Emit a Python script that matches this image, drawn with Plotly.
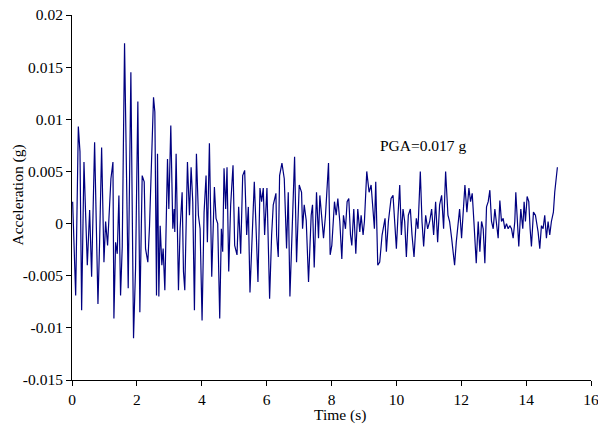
import plotly.graph_objects as go

time_s = [
    0.02, 0.113, 0.195, 0.246, 0.297, 0.369, 0.421, 0.472, 0.544, 0.605,
    0.697, 0.800, 0.851, 0.913, 0.985, 1.036, 1.097, 1.138, 1.200, 1.262,
    1.292, 1.344, 1.395, 1.446, 1.497, 1.549, 1.620, 1.733, 1.815, 1.897,
    1.959, 2.030, 2.092, 2.164, 2.226, 2.267, 2.338, 2.390, 2.513, 2.554,
    2.605, 2.636, 2.677, 2.718, 2.770, 2.810, 2.862, 2.944, 2.985, 3.046,
    3.108, 3.149, 3.169, 3.210, 3.282, 3.333, 3.395, 3.436, 3.477, 3.559,
    3.621, 3.672, 3.723, 3.774, 3.836, 3.897, 3.949, 4.010, 4.072, 4.133,
    4.174, 4.236, 4.308, 4.390, 4.441, 4.492, 4.554, 4.605, 4.646, 4.687,
    4.738, 4.779, 4.831, 4.892, 4.964, 5.015, 5.087, 5.138, 5.200, 5.262,
    5.323, 5.385, 5.436, 5.487, 5.549, 5.620, 5.672, 5.733, 5.795, 5.846,
    5.897, 5.938, 6.010, 6.092, 6.154, 6.205, 6.287, 6.308, 6.359, 6.400,
    6.472, 6.544, 6.615, 6.667, 6.718, 6.800, 6.862, 6.923, 7.005, 7.077,
    7.108, 7.159, 7.221, 7.292, 7.374, 7.415, 7.467, 7.538, 7.600, 7.641,
    7.703, 7.754, 7.815, 7.908, 7.959, 8.010, 8.092, 8.144, 8.195, 8.256,
    8.318, 8.369, 8.431, 8.482, 8.533, 8.585, 8.626, 8.687, 8.749, 8.810,
    8.872, 8.913, 8.974, 9.015, 9.087, 9.159, 9.221, 9.282, 9.323, 9.364,
    9.426, 9.487, 9.559, 9.651, 9.692, 9.754, 9.836, 9.897, 9.949, 10.000,
    10.050, 10.103, 10.154, 10.205, 10.256, 10.308, 10.369, 10.431, 10.482, 10.544,
    10.615, 10.667, 10.738, 10.790, 10.841, 10.903, 10.964, 11.026, 11.087, 11.149,
    11.210, 11.272, 11.333, 11.395, 11.456, 11.518, 11.590, 11.641, 11.703, 11.744,
    11.795, 11.846, 11.908, 11.949, 12.010, 12.072, 12.113, 12.174, 12.236, 12.287,
    12.338, 12.390, 12.462, 12.523, 12.574, 12.626, 12.677, 12.728, 12.779, 12.831,
    12.882, 12.933, 12.985, 13.036, 13.087, 13.138, 13.190, 13.241, 13.292, 13.344,
    13.395, 13.446, 13.497, 13.549, 13.600, 13.651, 13.682, 13.733, 13.774, 13.836,
    13.897, 13.938, 13.979, 14.031, 14.082, 14.123, 14.164, 14.226, 14.287, 14.369,
    14.421, 14.472, 14.523, 14.574, 14.626, 14.677, 14.728, 14.779, 14.841, 14.882,
    14.923, 14.964,
]

accel_g = [
    0.0021, -0.0069, 0.0093, 0.0069, -0.0083, 0.0059, 0.0008, -0.0040, 0.0013, -0.0051,
    0.0078, -0.0077, -0.0018, 0.0073, -0.0037, 0.0002, -0.0021, 0.0010, 0.0043, 0.0059,
    -0.0091, -0.0018, -0.0029, 0.0027, -0.0069, -0.0022, 0.0173, -0.0062, 0.0145, -0.0110,
    -0.0043, 0.0117, -0.0085, 0.0046, 0.0040, -0.0024, -0.0037, -0.0002, 0.0121, 0.0107,
    -0.0069, 0.0067, -0.0070, -0.0002, -0.0040, -0.0024, -0.0064, 0.0062, 0.0014, 0.0094,
    -0.0005, 0.0014, -0.0008, 0.0067, -0.0064, -0.0005, 0.0030, -0.0046, -0.0064, 0.0059,
    0.0008, 0.0054, 0.0021, -0.0083, 0.0067, 0.0008, -0.0005, -0.0093, 0.0011, 0.0046,
    -0.0018, 0.0077, -0.0051, 0.0035, 0.0005, 0.0000, -0.0091, -0.0005, -0.0027, 0.0053,
    0.0014, 0.0054, -0.0046, 0.0018, 0.0056, -0.0021, -0.0030, 0.0016, -0.0029, 0.0046,
    0.0051, -0.0011, 0.0016, -0.0066, -0.0021, 0.0040, -0.0002, -0.0056, 0.0034, 0.0021,
    0.0034, -0.0011, 0.0034, -0.0072, -0.0011, 0.0018, 0.0029, -0.0011, -0.0032, 0.0046,
    0.0058, 0.0043, -0.0024, 0.0030, -0.0070, 0.0002, 0.0064, -0.0037, 0.0037, 0.0030,
    -0.0005, 0.0018, 0.0003, -0.0056, 0.0008, 0.0018, -0.0042, 0.0030, -0.0014, 0.0027,
    0.0008, -0.0014, 0.0008, 0.0058, -0.0030, -0.0021, 0.0021, 0.0008, 0.0024, 0.0002,
    -0.0034, 0.0008, -0.0005, 0.0021, 0.0024, -0.0011, -0.0021, 0.0014, -0.0029, 0.0014,
    -0.0008, 0.0008, -0.0011, 0.0002, 0.0050, 0.0030, 0.0037, 0.0014, -0.0005, 0.0040,
    -0.0040, -0.0037, -0.0011, 0.0005, -0.0027, 0.0002, 0.0024, 0.0027, -0.0005, -0.0024,
    0.0008, 0.0037, -0.0011, 0.0014, 0.0002, -0.0032, 0.0008, 0.0014, -0.0011, -0.0032,
    0.0005, -0.0005, 0.0050, 0.0002, -0.0022, 0.0008, -0.0005, 0.0002, 0.0014, -0.0011,
    0.0021, -0.0018, 0.0018, 0.0027, -0.0005, 0.0050, 0.0008, 0.0002, -0.0014, -0.0024,
    -0.0040, -0.0018, 0.0002, 0.0014, -0.0014, 0.0021, 0.0037, 0.0011, 0.0034, 0.0021,
    0.0029, 0.0002, -0.0038, 0.0002, -0.0027, 0.0002, -0.0005, -0.0038, 0.0016, 0.0021,
    0.0032, 0.0002, -0.0005, 0.0014, 0.0002, -0.0014, 0.0022, 0.0002, 0.0005, -0.0005,
    0.0000, -0.0005, -0.0002, -0.0005, -0.0014, 0.0002, 0.0030, -0.0005, -0.0022, 0.0014,
    -0.0005, 0.0021, 0.0002, 0.0026, 0.0021, -0.0005, -0.0022, 0.0011, 0.0008, -0.0008,
    -0.0024, -0.0002, -0.0005, 0.0008, -0.0014, 0.0002, -0.0011, 0.0002, 0.0011, 0.0030,
    0.0046, 0.0054,
]

x_ticks = [0, 2, 4, 6, 8, 10, 12, 14, 16]
y_ticks = [0.02, 0.015, 0.01, 0.005, 0, -0.005, -0.01, -0.015]
y_tick_text = ["0.02", "0.015", "0.01", "0.005", "0", "-0.005", "-0.01", "-0.015"]

font_family = "Liberation Serif, Times New Roman, serif"
fsize = 15.5

fig = go.Figure()
fig.add_trace(go.Scatter(
    x=time_s, y=accel_g, mode="lines",
    line=dict(color="#000080", width=1.2),
    showlegend=False,
))

fig.add_annotation(
    x=10.81, y=0.0075, text="PGA=0.017 g", showarrow=False,
    font=dict(family=font_family, size=fsize, color="black"),
)
# axis titles
fig.add_annotation(
    xref="paper", yref="paper", x=0, y=0.5, xanchor="center", yanchor="middle",
    xshift=-55, yshift=2, textangle=-90, text="Acceleration (g)", showarrow=False,
    font=dict(family=font_family, size=fsize, color="black"),
)
fig.add_annotation(
    xref="paper", yref="paper", x=0.5, y=0, xanchor="center", yanchor="middle",
    xshift=8, yshift=-35, text="Time (s)", showarrow=False,
    font=dict(family=font_family, size=fsize, color="black"),
)

fig.update_layout(
    width=598, height=434,
    margin=dict(l=72, r=7, t=15, b=54, autoexpand=False),
    paper_bgcolor="white", plot_bgcolor="white",
    font=dict(family=font_family, size=fsize, color="black"),
)
fig.update_xaxes(
    range=[0, 16], tickvals=x_ticks, ticktext=[str(v) for v in x_ticks],
    showgrid=False, zeroline=False, showline=True, linecolor="black", linewidth=1,
    ticks="outside", ticklen=5, tickcolor="black",
    tickfont=dict(family=font_family, size=fsize),
    ticklabeloverflow="allow", automargin=False,
)
fig.update_yaxes(
    range=[-0.015, 0.02], tickvals=y_ticks, ticktext=y_tick_text,
    showgrid=False, zeroline=False, showline=True, linecolor="black", linewidth=1,
    ticks="outside", ticklen=5, tickcolor="black",
    tickfont=dict(family=font_family, size=fsize),
    ticklabeloverflow="allow", automargin=False,
)

fig.write_html("out.html")
